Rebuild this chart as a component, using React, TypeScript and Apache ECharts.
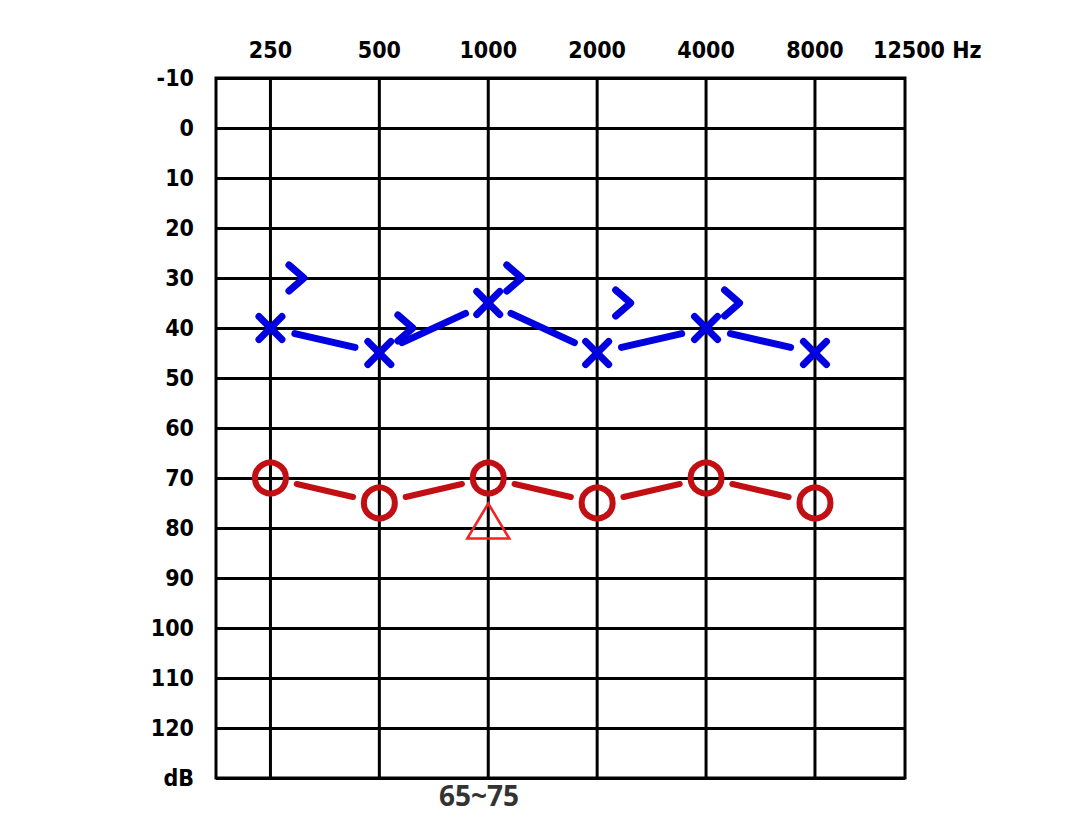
import React, { useEffect, useRef } from 'react';
import * as echarts from 'echarts';

// ---- data ----
const frequencies = [250, 500, 1000, 2000, 4000, 8000];
const freqLabels = ['250', '500', '1000', '2000', '4000', '8000'];
const airBlue = [40, 45, 35, 45, 40, 45];
const boneBlueFreqs = [250, 500, 1000, 2000, 4000];
const boneBlue = [30, 40, 30, 35, 35];
const airRed = [70, 75, 70, 75, 70, 75];
const triangleFreqs = [1000];
const triangleRed = [80];
const dbMin = -10;
const dbMax = 130;
const extraFreqLabel = '12500 Hz';
const noteText = '65~75';

const BLUE = '#0000e0';
const RED = '#c20f14';
const TRI_RED = '#f02424';
const LABEL_FONT = '"DejaVu Sans Condensed", "DejaVu Sans", sans-serif';

function segmentSeries(freqs: number[], vals: number[], color: string, width: number, gap: number) {
  const data = freqs.slice(0, -1).map((f, i) => [f, vals[i], freqs[i + 1], vals[i + 1]]);
  return {
    type: 'custom',
    z: 3,
    data,
    encode: { x: [0, 2], y: [1, 3] },
    renderItem: (_p: any, api: any) => {
      const a = api.coord([api.value(0), api.value(1)]);
      const b = api.coord([api.value(2), api.value(3)]);
      const dx = b[0] - a[0];
      const dy = b[1] - a[1];
      const L = Math.hypot(dx, dy) || 1;
      const ux = dx / L;
      const uy = dy / L;
      return {
        type: 'line',
        shape: { x1: a[0] + ux * gap, y1: a[1] + uy * gap, x2: b[0] - ux * gap, y2: b[1] - uy * gap },
        style: { stroke: color, lineWidth: width, lineCap: 'round' },
      };
    },
  };
}

export default function App() {
  const ref = useRef<HTMLDivElement>(null);
  useEffect(() => {
    if (!ref.current) return;
    const chart = echarts.init(ref.current, undefined, { renderer: 'svg' });
    const option: any = {
      animation: false,
      backgroundColor: '#fff',
      grid: {
        left: 216,
        right: 185,
        top: 78,
        bottom: 39,
        show: true,
        borderColor: '#000',
        borderWidth: 3,
        containLabel: false,
      },
      xAxis: {
        type: 'log',
        logBase: 2,
        min: 250 / Math.SQRT2,
        max: 14190,
        axisLine: { show: false },
        axisTick: { show: false },
        axisLabel: { show: false },
        splitLine: { show: false },
      },
      yAxis: {
        type: 'value',
        inverse: true,
        min: dbMin,
        max: dbMax,
        interval: 10,
        axisLine: { show: false },
        axisTick: { show: false },
        axisLabel: {
          margin: 22,
          color: '#000',
          fontSize: 23,
          fontWeight: 'bold',
          fontFamily: LABEL_FONT,
          formatter: (v: number) => (v === dbMax ? 'dB' : String(v)),
        },
        splitLine: { show: true, lineStyle: { color: '#000', width: 3 } },
      },
      graphic: [
        {
          type: 'text',
          x: 873,
          y: 50,
          style: {
            text: extraFreqLabel,
            font: `bold 23px ${LABEL_FONT}`,
            fill: '#000',
            align: 'left',
            verticalAlign: 'middle',
          },
        },
        {
          type: 'text',
          x: 479,
          y: 795,
          style: {
            text: noteText,
            font: 'bold 28px "Noto Sans", "Open Sans", sans-serif',
            fill: '#333',
            align: 'center',
            verticalAlign: 'middle',
          },
        },
      ],
      series: [
        // vertical frequency lines + labels
        {
          type: 'custom',
          z: 1,
          data: frequencies.map((f, i) => [f, i]),
          encode: { x: 0 },
          renderItem: (p: any, api: any) => {
            const f = api.value(0);
            const top = api.coord([f, dbMin]);
            const bot = api.coord([f, dbMax]);
            return {
              type: 'group',
              children: [
                {
                  type: 'line',
                  shape: { x1: top[0], y1: top[1], x2: bot[0], y2: bot[1] },
                  style: { stroke: '#000', lineWidth: 3 },
                },
                {
                  type: 'text',
                  x: top[0],
                  y: top[1] - 28,
                  style: {
                    text: freqLabels[p.dataIndex],
                    font: `bold 23px ${LABEL_FONT}`,
                    fill: '#000',
                    align: 'center',
                    verticalAlign: 'middle',
                  },
                },
              ],
            };
          },
        },
        segmentSeries(frequencies, airBlue, BLUE, 7, 25),
        segmentSeries(frequencies, airRed, RED, 6, 27),
        // blue crosses
        {
          type: 'custom',
          z: 4,
          data: frequencies.map((f, i) => [f, airBlue[i]]),
          encode: { x: 0, y: 1 },
          renderItem: (_p: any, api: any) => {
            const c = api.coord([api.value(0), api.value(1)]);
            const r = 11.5;
            const st = { stroke: BLUE, lineWidth: 7, lineCap: 'round' };
            return {
              type: 'group',
              children: [
                { type: 'line', shape: { x1: c[0] - r, y1: c[1] - r, x2: c[0] + r, y2: c[1] + r }, style: st },
                { type: 'line', shape: { x1: c[0] + r, y1: c[1] - r, x2: c[0] - r, y2: c[1] + r }, style: st },
              ],
            };
          },
        },
        // blue chevrons ">"
        {
          type: 'custom',
          z: 4,
          data: boneBlueFreqs.map((f, i) => [f, boneBlue[i]]),
          encode: { x: 0, y: 1 },
          renderItem: (_p: any, api: any) => {
            const c = api.coord([api.value(0), api.value(1)]);
            const cx = c[0] + 26;
            const w = 7.5;
            const h = 13;
            return {
              type: 'polyline',
              shape: { points: [[cx - w, c[1] - h], [cx + w, c[1]], [cx - w, c[1] + h]] },
              style: { stroke: BLUE, lineWidth: 7, lineCap: 'round', lineJoin: 'round', fill: 'none' },
            };
          },
        },
        // red circles
        {
          type: 'scatter',
          z: 4,
          symbol: 'circle',
          symbolSize: 31,
          itemStyle: { color: 'rgba(0,0,0,0)', borderColor: RED, borderWidth: 6, opacity: 1 },
          data: frequencies.map((f, i) => [f, airRed[i]]),
        },
        // red triangle
        {
          type: 'scatter',
          z: 4,
          symbol: 'triangle',
          symbolSize: [42, 35],
          symbolOffset: [0, -7],
          itemStyle: { color: 'rgba(0,0,0,0)', borderColor: TRI_RED, borderWidth: 2.5, opacity: 1 },
          data: triangleFreqs.map((f, i) => [f, triangleRed[i]]),
        },
      ],
    };
    chart.setOption(option);
    return () => chart.dispose();
  }, []);
  return (
    <div
      ref={ref}
      style={{ position: 'fixed', left: 0, top: 0, width: 1090, height: 817, background: '#fff' }}
    />
  );
}
